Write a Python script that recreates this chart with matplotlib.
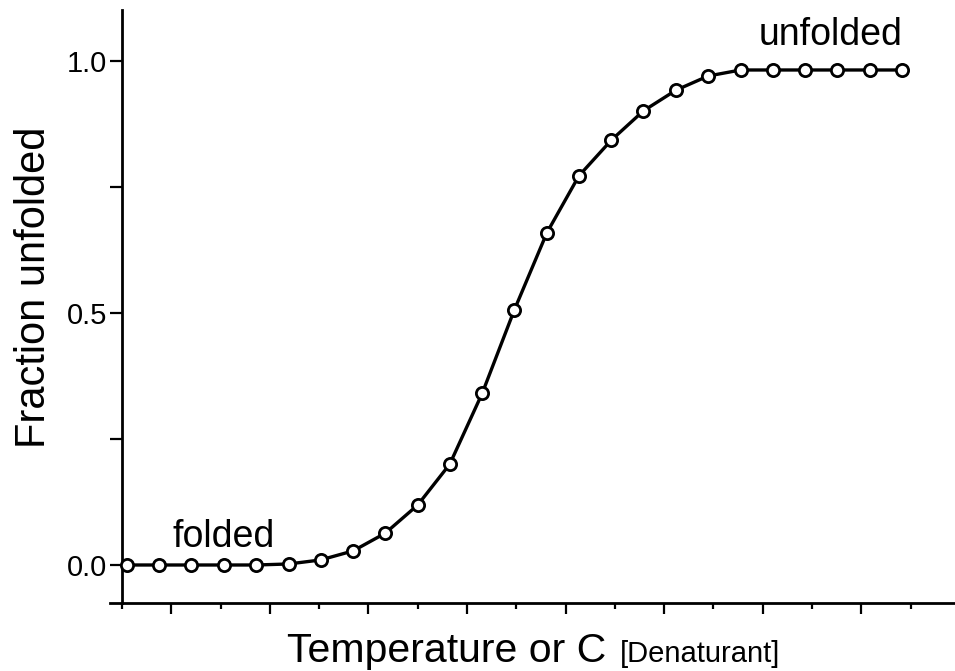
import matplotlib.pyplot as plt

plt.rcParams['font.family'] = ['Liberation Sans', 'DejaVu Sans']

# temperature (arbitrary units, one unit = one x tick) and fraction unfolded
temperature = [0.10, 0.76, 1.41, 2.07, 2.72, 3.38, 4.03, 4.69, 5.34, 6.00,
               6.65, 7.31, 7.96, 8.62, 9.27, 9.93, 10.58, 11.24, 11.89, 12.55,
               13.20, 13.86, 14.51, 15.17, 15.82]
fraction = [0.0, 0.0, 0.0, 0.0, 0.0, 0.002, 0.010, 0.028, 0.063, 0.119,
            0.200, 0.341, 0.506, 0.659, 0.772, 0.843, 0.901, 0.942, 0.970, 0.982,
            0.982, 0.982, 0.982, 0.982, 0.982]

y_ticks = [0.0, 0.25, 0.5, 0.75, 1.0]
y_ticklabels = ['0.0', '', '0.5', '', '1.0']
x_major = [1, 3, 5, 7, 9, 11, 13, 15]
x_minor = [0, 2, 4, 6, 8, 10, 12, 14, 16]

fig = plt.figure(figsize=(9.55, 6.71), dpi=100)
ax = fig.add_axes([110 / 955, 1 - 603 / 671, 845 / 955, 593 / 671])

ax.plot(temperature, fraction, color='black', lw=2.4, solid_joinstyle='round',
        marker='o', ms=8.8, mfc='white', mec='black', mew=2.0, clip_on=False, zorder=3)

ax.set_xlim(-0.243, 16.9)
ax.set_ylim(-0.0754, 1.101)

for side in ['top', 'right']:
    ax.spines[side].set_visible(False)
ax.spines['left'].set_position(('data', 0))
ax.spines['left'].set_linewidth(2.0)
ax.spines['bottom'].set_linewidth(2.0)

ax.set_yticks(y_ticks, labels=y_ticklabels)
ax.tick_params(axis='y', length=8.6, width=1.6, pad=2, labelsize=21)
ax.set_xticks(x_major)
ax.set_xticks(x_minor, minor=True)
ax.tick_params(axis='x', which='major', length=8, width=1.6, labelbottom=False)
ax.tick_params(axis='x', which='minor', length=4, width=1.6)

ax.text(1.03, 0.036, 'folded', fontsize=27, ha='left', va='baseline')
ax.text(15.84, 1.032, 'unfolded', fontsize=27, ha='right', va='baseline')

fig.text(287 / 955, 1 - 662 / 671, 'Temperature or C', fontsize=29.5, ha='left', va='baseline')
fig.text(620 / 955, 1 - 662 / 671, '[Denaturant]', fontsize=21, ha='left', va='baseline')
fig.text(45 / 955, 1 - 287 / 671, 'Fraction unfolded', fontsize=30, rotation=90,
         ha='center', va='baseline', rotation_mode='anchor')

fig.savefig('out.png', dpi=100)
